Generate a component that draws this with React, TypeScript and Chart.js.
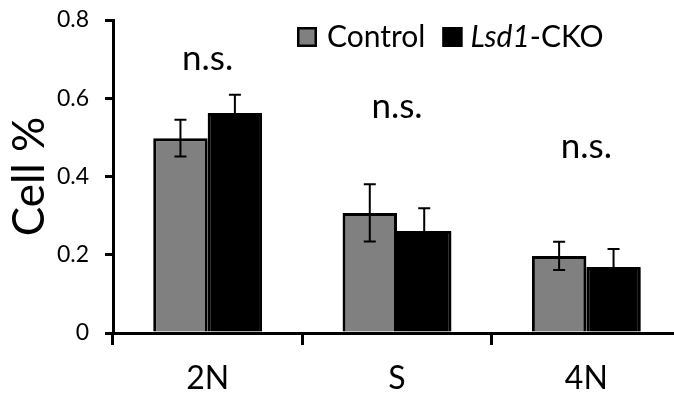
import { useEffect, useRef } from 'react';
import { Chart, registerables } from 'chart.js';

Chart.register(...registerables);

const categories = ['2N', 'S', '4N'];
const controlValues = [0.498, 0.307, 0.197];
const controlErrors = [0.047, 0.073, 0.036];
const ckoValues = [0.562, 0.261, 0.169];
const ckoErrors = [0.047, 0.058, 0.046];
const yTickLabels = ['0', '0.2', '0.4', '0.6', '0.8'];
const sigLabels = ['n.s.', 'n.s.', 'n.s.'];
const sigLevels = [0.672, 0.55, 0.447];
const legendItalic = ['', 'Lsd1'];
const legendPlain = ['Control', '-CKO'];
const seriesColors = ['#808080', '#000000'];

const FONT = 'Lato, "Open Sans", sans-serif';

const errorPlugin = {
  id: 'errorBarsAndShadow',
  beforeDatasetsDraw(chart: any) {
    const ctx = chart.ctx;
    ctx.save();
    ctx.shadowColor = 'rgba(0,0,0,0.25)';
    ctx.shadowBlur = 4;
    ctx.shadowOffsetX = 2;
    ctx.shadowOffsetY = 2;
  },
  afterDatasetsDraw(chart: any) {
    const ctx = chart.ctx;
    ctx.restore();
    const y = chart.scales.y;
    const errs = [controlErrors, ckoErrors];
    chart.data.datasets.forEach((ds: any, di: number) => {
      const meta = chart.getDatasetMeta(di);
      meta.data.forEach((el: any, i: number) => {
        const v = ds.data[i];
        const e = errs[di][i];
        const yt = y.getPixelForValue(v + e);
        const yb = y.getPixelForValue(v - e);
        const x = el.x;
        ctx.save();
        ctx.strokeStyle = '#000';
        ctx.lineWidth = 2;
        ctx.beginPath();
        ctx.moveTo(x, yt);
        ctx.lineTo(x, yb);
        ctx.moveTo(x - 6, yt);
        ctx.lineTo(x + 6, yt);
        ctx.moveTo(x - 6, yb);
        ctx.lineTo(x + 6, yb);
        ctx.stroke();
        ctx.restore();
      });
    });
  },
};

const annotationPlugin = {
  id: 'annotations',
  afterDraw(chart: any) {
    const ctx = chart.ctx;
    const xs = chart.scales.x;
    const ys = chart.scales.y;
    ctx.save();
    ctx.fillStyle = '#000';
    ctx.textAlign = 'center';
    ctx.textBaseline = 'alphabetic';
    ctx.font = `35px ${FONT}`;
    sigLabels.forEach((t, i) => {
      ctx.fillText(t, xs.getPixelForValue(i), ys.getPixelForValue(sigLevels[i]));
    });

    // legend
    const area = chart.chartArea;
    let x = area.left + 184;
    const top = area.top + 7;
    const base = area.top + 27;
    ctx.textAlign = 'left';
    legendPlain.forEach((plain, i) => {
      ctx.fillStyle = seriesColors[i];
      ctx.fillRect(x, top, 20, 20);
      ctx.strokeStyle = '#000';
      ctx.lineWidth = 2.5;
      ctx.strokeRect(x + 1.25, top + 1.25, 17.5, 17.5);
      x += 20 + (i === 0 ? 10 : 8);
      ctx.fillStyle = '#000';
      if (legendItalic[i]) {
        ctx.font = `italic 30px ${FONT}`;
        ctx.fillText(legendItalic[i], x, base);
        x += ctx.measureText(legendItalic[i]).width;
      }
      ctx.font = `30px ${FONT}`;
      ctx.fillText(plain, x, base);
      x += ctx.measureText(plain).width + 17;
    });
    ctx.restore();
  },
};

export default function App() {
  const ref = useRef<HTMLCanvasElement | null>(null);
  useEffect(() => {
    if (!ref.current) return;
    const chart = new Chart(ref.current, {
      type: 'bar',
      data: {
        labels: categories,
        datasets: [
          {
            label: 'Control',
            data: controlValues,
            backgroundColor: seriesColors[0],
            borderColor: '#000',
            borderWidth: 3,
          },
          {
            label: 'Lsd1-CKO',
            data: ckoValues,
            backgroundColor: seriesColors[1],
            borderColor: '#000',
            borderWidth: 3,
          },
        ],
      },
      options: {
        animation: false,
        responsive: true,
        maintainAspectRatio: false,
        layout: { padding: { top: 20, right: 9, left: 0, bottom: 0 } },
        plugins: { legend: { display: false }, tooltip: { enabled: false } },
        datasets: { bar: { barPercentage: 1, categoryPercentage: 0.575 } },
        scales: {
          x: {
            grid: {
              offset: true,
              drawOnChartArea: false,
              tickLength: 12,
              lineWidth: 3,
              color: '#000',
            },
            border: { width: 3, color: '#000' },
            ticks: { font: { family: FONT, size: 32 }, color: '#000', padding: 14 },
            afterFit: (s: any) => {
              s.height = 68;
              s.paddingLeft = 0;
              s.paddingRight = 0;
            },
          },
          y: {
            min: 0,
            max: 0.8,
            ticks: {
              stepSize: 0.2,
              font: { family: FONT, size: 23 },
              color: '#000',
              padding: 16,
              callback: (_v: any, i: number) => yTickLabels[i],
            },
            grid: { drawOnChartArea: false, tickLength: 8, lineWidth: 3, color: '#000' },
            border: { width: 3, color: '#000' },
            title: {
              display: true,
              text: 'Cell %',
              font: { family: FONT, size: 44 },
              color: '#000',
              padding: { top: 3, bottom: 0 },
            },
            afterFit: (s: any) => {
              s.width = 113;
              s.paddingTop = 0;
              s.paddingBottom = 0;
            },
          },
        },
      },
      plugins: [errorPlugin, annotationPlugin],
    });
    return () => chart.destroy();
  }, []);
  return (
    <div style={{ position: 'fixed', left: 0, top: 0, width: 690, height: 401 }}>
      <canvas ref={ref} />
    </div>
  );
}
